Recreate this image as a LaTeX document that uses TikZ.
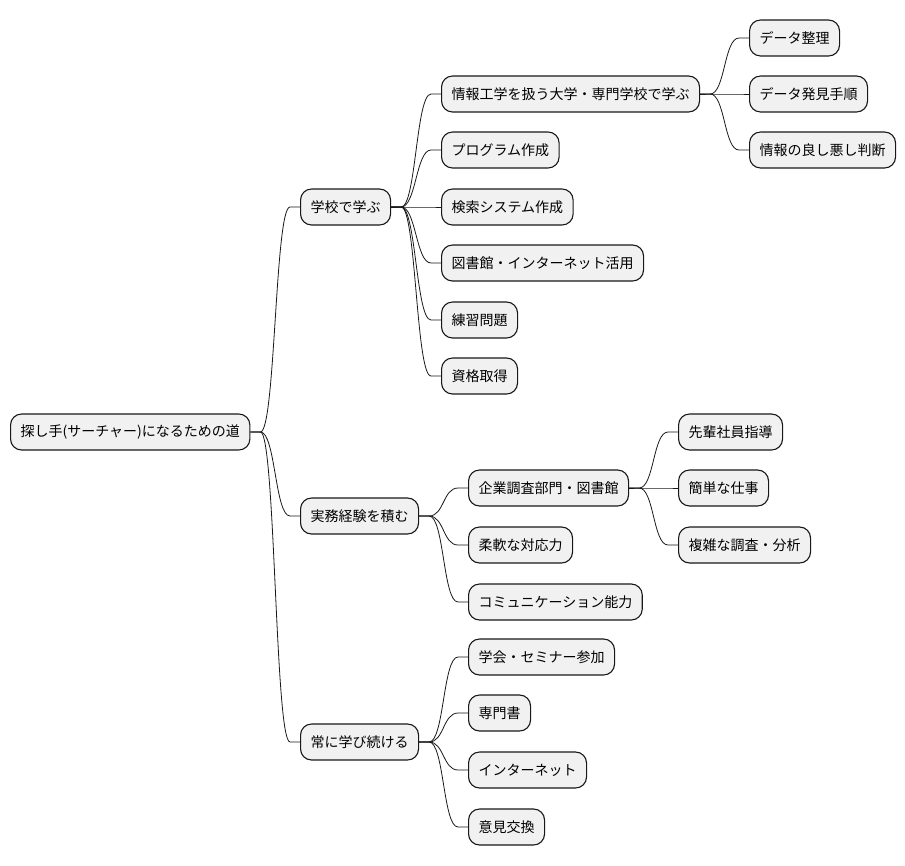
\documentclass[tikz,border=0pt]{standalone}
\usepackage{fontspec}
\setmainfont{Noto Sans CJK JP}
\usepackage{tikz}
\usetikzlibrary{calc}
\definecolor{MMfill}{RGB}{241,241,241}
\definecolor{MMline}{RGB}{24,24,24}
\tikzset{
  mmbox/.style={draw=MMline, fill=MMfill, line width=1.1pt, rounded corners=11pt,
    anchor=west, minimum height=36pt, inner xsep=10pt, inner ysep=0pt,
    font=\fontsize{14}{16}\selectfont},
  mmlink/.style={draw=MMline, line width=0.8pt,
    to path={-- ++(10,0) coordinate (mmstub)
      .. controls ($(mmstub)+(15,0)$) and ($(\tikztotarget)+(-25,0)$)
      .. ($(\tikztotarget)+(-10,0)$) -- (\tikztotarget)}}
}

\begin{document}
\begin{tikzpicture}[x=1pt,y=-1pt]
  \useasboundingbox (0,0) rectangle (905,865);
  \node[mmbox] (root) at (10,432) {探し手(サーチャー)になるための道};
  \node[mmbox] (school) at (300,207) {学校で学ぶ};
  \node[mmbox] (work) at (300,516) {実務経験を積む};
  \node[mmbox] (learn) at (300,742) {常に学び続ける};
  \foreach \n in {school,work,learn}
    \draw[mmlink] (root.east) to (\n.west);
  \foreach \n/\y/\t in {univ/94/情報工学を扱う大学・専門学校で学ぶ, prog/150/プログラム作成,
      search/207/検索システム作成, lib/263/図書館・インターネット活用,
      drill/320/練習問題, cert/376/資格取得}{
    \node[mmbox] (\n) at (441,\y) {\t};
    \draw[mmlink] (school.east) to (\n.west);
  }
  \foreach \n/\y/\t in {tidy/38/データ整理, find/94/データ発見手順, judge/150/情報の良し悪し判断}{
    \node[mmbox] (\n) at (749,\y) {\t};
    \draw[mmlink] (univ.east) to (\n.west);
  }
  \foreach \n/\y/\t in {dept/488/企業調査部門・図書館, flex/545/柔軟な対応力,
      comm/602/コミュニケーション能力}{
    \node[mmbox] (\n) at (468,\y) {\t};
    \draw[mmlink] (work.east) to (\n.west);
  }
  \foreach \n/\y/\t in {senior/432/先輩社員指導, easy/488/簡単な仕事, hard/545/複雑な調査・分析}{
    \node[mmbox] (\n) at (678,\y) {\t};
    \draw[mmlink] (dept.east) to (\n.west);
  }
  \foreach \n/\y/\t in {conf/657/学会・セミナー参加, book/713/専門書,
      net/770/インターネット, talk/827/意見交換}{
    \node[mmbox] (\n) at (468,\y) {\t};
    \draw[mmlink] (learn.east) to (\n.west);
  }
\end{tikzpicture}
\end{document}
